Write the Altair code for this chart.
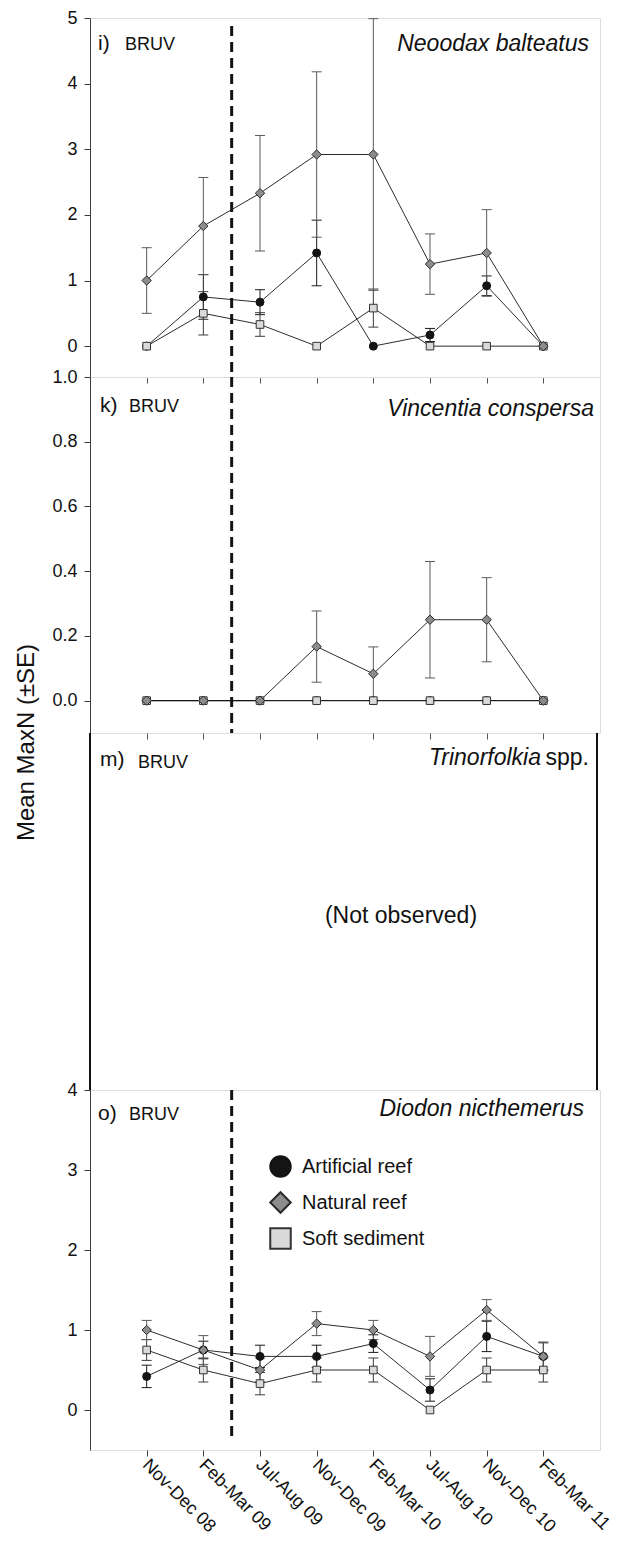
import json
import altair as alt
import pandas as pd

FONT = "Liberation Sans"

periods = ["Nov-Dec 08", "Feb-Mar 09", "Jul-Aug 09", "Nov-Dec 09",
           "Feb-Mar 10", "Jul-Aug 10", "Nov-Dec 10", "Feb-Mar 11"]
sites = ["Artificial reef", "Natural reef", "Soft sediment"]
survey_break = [2.5]  # dashed line between Feb-Mar 09 and Jul-Aug 09

# i) Neoodax balteatus
nb_art_mean = [0.00, 0.75, 0.67, 1.42, 0.00, 0.17, 0.92, 0.00]
nb_art_se = [0.00, 0.34, 0.19, 0.50, 0.00, 0.10, 0.15, 0.00]
nb_nat_mean = [1.00, 1.83, 2.33, 2.92, 2.92, 1.25, 1.42, 0.00]
nb_nat_se = [0.50, 0.74, 0.88, 1.26, 2.07, 0.46, 0.66, 0.00]
nb_soft_mean = [0.00, 0.50, 0.33, 0.00, 0.58, 0.00, 0.00, 0.00]
nb_soft_se = [0.00, 0.33, 0.18, 0.00, 0.29, 0.00, 0.00, 0.00]

# k) Vincentia conspersa
vc_art_mean = [0.00, 0.00, 0.00, 0.00, 0.00, 0.00, 0.00, 0.00]
vc_art_se = [0.00, 0.00, 0.00, 0.00, 0.00, 0.00, 0.00, 0.00]
vc_nat_mean = [0.00, 0.00, 0.00, 0.167, 0.083, 0.25, 0.25, 0.00]
vc_nat_se = [0.00, 0.00, 0.00, 0.11, 0.083, 0.18, 0.13, 0.00]
vc_soft_mean = [0.00, 0.00, 0.00, 0.00, 0.00, 0.00, 0.00, 0.00]
vc_soft_se = [0.00, 0.00, 0.00, 0.00, 0.00, 0.00, 0.00, 0.00]

# o) Diodon nicthemerus
dn_art_mean = [0.42, 0.75, 0.67, 0.67, 0.83, 0.25, 0.92, 0.67]
dn_art_se = [0.14, 0.11, 0.14, 0.14, 0.11, 0.14, 0.19, 0.17]
dn_nat_mean = [1.00, 0.75, 0.50, 1.08, 1.00, 0.67, 1.25, 0.67]
dn_nat_se = [0.12, 0.18, 0.15, 0.15, 0.12, 0.25, 0.13, 0.18]
dn_soft_mean = [0.75, 0.50, 0.33, 0.50, 0.50, 0.00, 0.50, 0.50]
dn_soft_se = [0.13, 0.15, 0.14, 0.15, 0.15, 0.00, 0.15, 0.15]

W = 510
H_I, H_K, H_M, H_O = 359, 356, 357, 360

shape_scale = alt.Scale(domain=sites, range=["circle", "diamond", "square"])
fill_scale = alt.Scale(domain=sites, range=["#141414", "#8c8c8c", "#dadada"])
stroke_scale = alt.Scale(domain=sites, range=["#141414", "#2a2a2a", "#333333"])

marker_size = {"Artificial reef": 64, "Natural reef": 88, "Soft sediment": 58}
err_color = {"Artificial reef": "#1a1a1a", "Natural reef": "#5a5a5a", "Soft sediment": "#3a3a3a"}
draw_order = ["Artificial reef", "Soft sediment", "Natural reef"]


def series_df(art_m, art_s, nat_m, nat_s, soft_m, soft_s):
    recs = []
    for site, means, ses in [("Artificial reef", art_m, art_s),
                             ("Soft sediment", soft_m, soft_s),
                             ("Natural reef", nat_m, nat_s)]:
        for i, (m, s) in enumerate(zip(means, ses)):
            recs.append({"t": i + 1, "period": periods[i], "site": site,
                         "mean": m, "se": s, "lo": m - s, "hi": m + s})
    return pd.DataFrame(recs)


def caps_df(d):
    lo = d[["t", "site", "lo"]].rename(columns={"lo": "v"})
    hi = d[["t", "site", "hi"]].rename(columns={"hi": "v"})
    return pd.concat([lo, hi], ignore_index=True)


def txt(text, x, y, size, italic=False, align="left"):
    return alt.Chart(pd.DataFrame({"label": [text]})).mark_text(
        align=align, baseline="alphabetic", fontSize=size, font=FONT,
        fontStyle="italic" if italic else "normal", color="#111111"
    ).encode(x=alt.value(x), y=alt.value(y), text="label:N")


def x_enc(show_labels, show_ticks=True):
    if show_labels:
        axis = alt.Axis(values=list(range(1, 9)), grid=False, domain=False,
                        tickSize=6, tickColor="#444444", title=None,
                        labelExpr=f"{json.dumps(periods)}[datum.value - 1]",
                        labelAngle=45, labelAlign="left", labelBaseline="middle",
                        labelPadding=6, labelOffset=-2, labelFontSize=18,
                        labelColor="#111111", labelFont=FONT, labelOverlap=False)
    elif show_ticks:
        axis = alt.Axis(values=list(range(1, 9)), grid=False, domain=False,
                        labels=False, tickSize=6, tickColor="#555555", title=None)
    else:
        axis = None
    return alt.X("t:Q", scale=alt.Scale(domain=[0, 9], nice=False, zero=False), axis=axis)


def data_panel(df, ydom, yvals, fmt, H, letter, letter_xy, bruv_xy, species,
               species_xy, vline_px, show_x_labels=False, legend=None, ytitle=None):
    y_axis_kwargs = dict(values=yvals, format=fmt, grid=False, tickSize=6,
                         labelPadding=7, labelFontSize=18, labelFont=FONT,
                         labelColor="#111111", domainColor="#3a3a3a",
                         tickColor="#3a3a3a")
    if ytitle:
        y_axis_kwargs.update(title=ytitle, titleX=-64, titleY=365,
                             titleFontSize=24, titleFontWeight="normal",
                             titleFont=FONT, titleColor="#111111",
                             titleBaseline="middle", titleAngle=270)
    else:
        y_axis_kwargs.update(title=None)
    yscale = alt.Scale(domain=ydom, nice=False, zero=False)
    X = x_enc(show_x_labels)

    def Y(field):
        return alt.Y(field, scale=yscale, axis=alt.Axis(**y_axis_kwargs))

    layers = [alt.Chart(pd.DataFrame({"x": survey_break})).mark_rule(
        strokeDash=[10, 6], strokeWidth=3, color="#141414"
    ).encode(x=alt.X("x:Q", scale=alt.Scale(domain=[0, 9], nice=False, zero=False)),
             y=alt.value(vline_px[0]), y2=alt.value(vline_px[1]))]

    for site in draw_order:
        d = df[(df["site"] == site) & (df["se"] > 0)]
        if len(d) == 0:
            continue
        layers.append(alt.Chart(d).mark_rule(strokeWidth=1, color=err_color[site]).encode(
            x=X, y=Y("lo:Q"), y2="hi:Q"))
        layers.append(alt.Chart(caps_df(d)).mark_point(
            shape="M-1,0L1,0", size=100, filled=False, strokeWidth=1, opacity=1,
            color=err_color[site]).encode(x=X, y=Y("v:Q")))

    layers.append(alt.Chart(df).mark_line(color="#141414", strokeWidth=0.9).encode(
        x=X, y=Y("mean:Q"), detail="site:N"))

    for site in draw_order:
        d = df[df["site"] == site]
        layers.append(alt.Chart(d).mark_point(
            filled=True, opacity=1, strokeWidth=1, size=marker_size[site]).encode(
            x=X, y=Y("mean:Q"),
            shape=alt.Shape("site:N", scale=shape_scale, legend=legend),
            fill=alt.Fill("site:N", scale=fill_scale, legend=legend),
            stroke=alt.Stroke("site:N", scale=stroke_scale, legend=legend)))

    layers += [txt(letter, letter_xy[0], letter_xy[1], 21),
               txt("BRUV", bruv_xy[0], bruv_xy[1], 18),
               txt(species, species_xy[0], species_xy[1], 23, italic=True, align="right")]
    return alt.layer(*layers).properties(width=W, height=H)


legend_o = alt.Legend(orient="none", legendX=179, legendY=65, title=None,
                      symbolSize=420, symbolStrokeWidth=2, labelFontSize=20,
                      labelFont=FONT, labelColor="#111111", labelOffset=10,
                      rowPadding=7, padding=0)

panel_i = data_panel(
    series_df(nb_art_mean, nb_art_se, nb_nat_mean, nb_nat_se, nb_soft_mean, nb_soft_se),
    [-0.47, 5], [0, 1, 2, 3, 4, 5], "d", H_I,
    "i)", (8, 32), (35, 32), "Neoodax balteatus", (499, 33), (8, H_I))

panel_k = data_panel(
    series_df(vc_art_mean, vc_art_se, vc_nat_mean, vc_nat_se, vc_soft_mean, vc_soft_se),
    [-0.1, 1.0], [0, 0.2, 0.4, 0.6, 0.8, 1.0], ".1f", H_K,
    "k)", (10, 35), (39, 35), "Vincentia conspersa", (504, 39), (0, H_K),
    ytitle="Mean MaxN (±SE)")

# m) Trinorfolkia spp. -- not observed
m_vline = alt.Chart(pd.DataFrame({"x": survey_break})).mark_rule(
    strokeDash=[10, 6], strokeWidth=3, color="#141414"
).encode(x=x_enc(False, False), y=alt.value(0), y2=alt.value(H_M))
m_left = alt.Chart(pd.DataFrame({"b": ["left"]})).mark_rule(
    strokeWidth=2, color="#111111").encode(x=alt.value(0), y=alt.value(0), y2=alt.value(H_M))
m_right = alt.Chart(pd.DataFrame({"b": ["right"]})).mark_rule(
    strokeWidth=2, color="#111111").encode(x=alt.value(507), y=alt.value(0), y2=alt.value(H_M))
panel_m = alt.layer(
    m_vline, m_left, m_right,
    txt("m)", 10, 33, 21), txt("BRUV", 48, 35, 18),
    txt("spp.", 499, 32, 23, align="right"),
    txt("Trinorfolkia", 451, 32, 23, italic=True, align="right"),
    alt.Chart(pd.DataFrame({"label": ["(Not observed)"]})).mark_text(
        align="center", baseline="alphabetic", fontSize=23, font=FONT, color="#111111"
    ).encode(x=alt.value(311), y=alt.value(190), text="label:N"),
).properties(width=W, height=H_M, view=alt.ViewBackground(stroke=None))

panel_o = data_panel(
    series_df(dn_art_mean, dn_art_se, dn_nat_mean, dn_nat_se, dn_soft_mean, dn_soft_se),
    [-0.5, 4], [0, 1, 2, 3, 4], "d", H_O,
    "o)", (8, 30), (39, 30), "Diodon nicthemerus", (494, 26), (0, 350),
    show_x_labels=True, legend=legend_o)

chart = alt.vconcat(panel_i, panel_k, panel_m, panel_o, spacing=0, bounds="flush").resolve_scale(
    fill="independent", shape="independent", stroke="independent"
).resolve_legend(
    fill="independent", shape="independent", stroke="independent"
).properties(
    padding={"left": 5, "top": 0, "right": 0, "bottom": 4}
).configure_view(stroke="#777777", strokeWidth=1).configure(font=FONT)

chart.save("out.html", embed_options={"renderer": "svg", "actions": False})
